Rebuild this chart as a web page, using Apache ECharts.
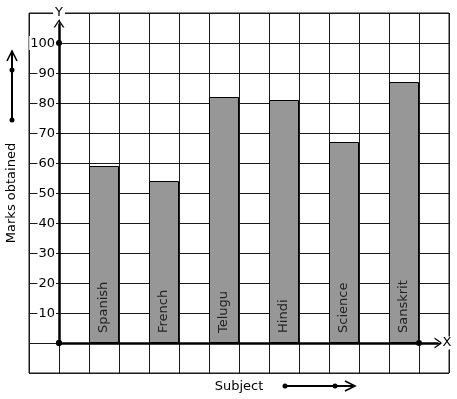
<!DOCTYPE html>
<html>
<head>
<meta charset="utf-8">
<script src="https://cdn.jsdelivr.net/npm/echarts@6/dist/echarts.min.js"></script>
<style>
  html, body { margin: 0; padding: 0; background: #fff; }
  #chart { width: 457px; height: 399px; }
</style>
</head>
<body>
<div id="chart"></div>
<script>
// data
const subjects = ['Spanish', 'French', 'Telugu', 'Hindi', 'Science', 'Sanskrit']
const marks = [59, 54, 82, 81, 67, 87]
const yTickLabels = [10, 20, 30, 40, 50, 60, 70, 80, 90, 100]

const FONT = 'DejaVu Sans'
const LINE = '#1a1a1a'
const AXIS_W = 2.5

// open chevron used as arrow head (pointing up before rotation)
const CHEVRON = 'path://M0,10 L5,0 L10,10 L8.6,10 L5,2.6 L1.4,10 Z'

const chart = echarts.init(document.getElementById('chart'))

// each subject sits in every second column of the grid
const barData = subjects.map((name, i) => ({
  name: name,
  value: [2 * i + 2.5, marks[i]],
}))

const axisStyle = { color: '#000', width: AXIS_W, type: 'solid' }

chart.setOption({
  animation: false,
  textStyle: { fontFamily: FONT },
  grid: {
    left: 29,
    top: 13,
    width: 420,
    height: 360,
    show: true,
    borderColor: LINE,
    borderWidth: 1,
    outerBoundsMode: 'none',
  },
  xAxis: {
    type: 'value',
    min: 0,
    max: 14,
    interval: 1,
    axisLine: { show: false },
    axisTick: { show: false },
    axisLabel: { show: false },
    splitLine: { show: true, lineStyle: { color: LINE, width: 1 } },
    name: 'Subject',
    nameLocation: 'middle',
    nameGap: 7,
    nameTextStyle: { fontFamily: FONT, fontSize: 13, color: '#000' },
  },
  yAxis: {
    type: 'value',
    min: -10,
    max: 110,
    interval: 10,
    offset: -30,
    axisLine: { show: false },
    axisTick: { show: false },
    splitLine: { show: true, lineStyle: { color: LINE, width: 1 } },
    axisLabel: {
      margin: 3,
      formatter: (v) => (yTickLabels.includes(v) ? '{t|' + v + '}' : ''),
      rich: {
        t: {
          fontFamily: FONT,
          fontSize: 13,
          color: '#000',
          backgroundColor: '#fff',
          padding: [1, 1, 0, 1],
        },
      },
    },
    name: 'Marks obtained',
    nameLocation: 'middle',
    nameGap: 40,
    nameRotate: 90,
    nameTextStyle: { fontFamily: FONT, fontSize: 13, color: '#000' },
  },
  series: [
    {
      type: 'bar',
      data: barData,
      barWidth: 30,
      itemStyle: { color: '#979797', borderColor: '#000', borderWidth: 1 },
      label: {
        show: true,
        formatter: '{b}',
        position: 'insideBottom',
        distance: 10,
        rotate: 90,
        align: 'left',
        verticalAlign: 'middle',
        fontFamily: FONT,
        fontSize: 13,
        color: '#222',
      },
      markLine: {
        silent: true,
        lineStyle: axisStyle,
        symbolSize: [6, 6],
        label: { show: false },
        data: [
          // y axis
          [
            { coord: [1, 0], symbol: 'circle', symbolSize: 6 },
            { coord: [1, 100], symbol: 'circle', symbolSize: 6 },
          ],
          [
            {
              coord: [1, 100],
              symbol: 'none',
              label: {
                show: true,
                position: 'end',
                formatter: 'Y',
                distance: 4,
                fontFamily: FONT,
                fontSize: 13,
                color: '#000',
                backgroundColor: '#fff',
                padding: [0, 2],
              },
            },
            { coord: [1, 106.5], symbol: CHEVRON, symbolSize: [11, 8] },
          ],
          // x axis
          [
            { coord: [1, 0], symbol: 'circle', symbolSize: 6 },
            { coord: [13, 0], symbol: 'circle', symbolSize: 6 },
          ],
          [
            {
              coord: [13, 0],
              symbol: 'none',
              label: {
                show: true,
                position: 'end',
                formatter: 'X',
                distance: 3,
                fontFamily: FONT,
                fontSize: 13,
                color: '#000',
                backgroundColor: '#fff',
                padding: [0, 1],
              },
            },
            { coord: [13.65, 0], symbol: CHEVRON, symbolSize: [11, 8] },
          ],
        ],
      },
    },
  ],
  graphic: [
    // arrow beside the y axis name
    { type: 'line', shape: { x1: 12, y1: 120, x2: 12, y2: 52 }, style: { stroke: '#000', lineWidth: 2 } },
    { type: 'polyline', shape: { points: [[7, 61], [12, 51], [17, 61]] }, style: { stroke: '#000', lineWidth: 1.6, fill: null } },
    { type: 'circle', shape: { cx: 12, cy: 70, r: 2.5 }, style: { fill: '#000' } },
    { type: 'circle', shape: { cx: 12, cy: 120, r: 2.5 }, style: { fill: '#000' } },
    // arrow beside the x axis name
    { type: 'line', shape: { x1: 285, y1: 386, x2: 353, y2: 386 }, style: { stroke: '#000', lineWidth: 2 } },
    { type: 'polyline', shape: { points: [[345, 381], [355, 386], [345, 391]] }, style: { stroke: '#000', lineWidth: 1.6, fill: null } },
    { type: 'circle', shape: { cx: 285, cy: 386, r: 2.5 }, style: { fill: '#000' } },
    { type: 'circle', shape: { cx: 335, cy: 386, r: 2.5 }, style: { fill: '#000' } },
  ],
})
</script>
</body>
</html>
